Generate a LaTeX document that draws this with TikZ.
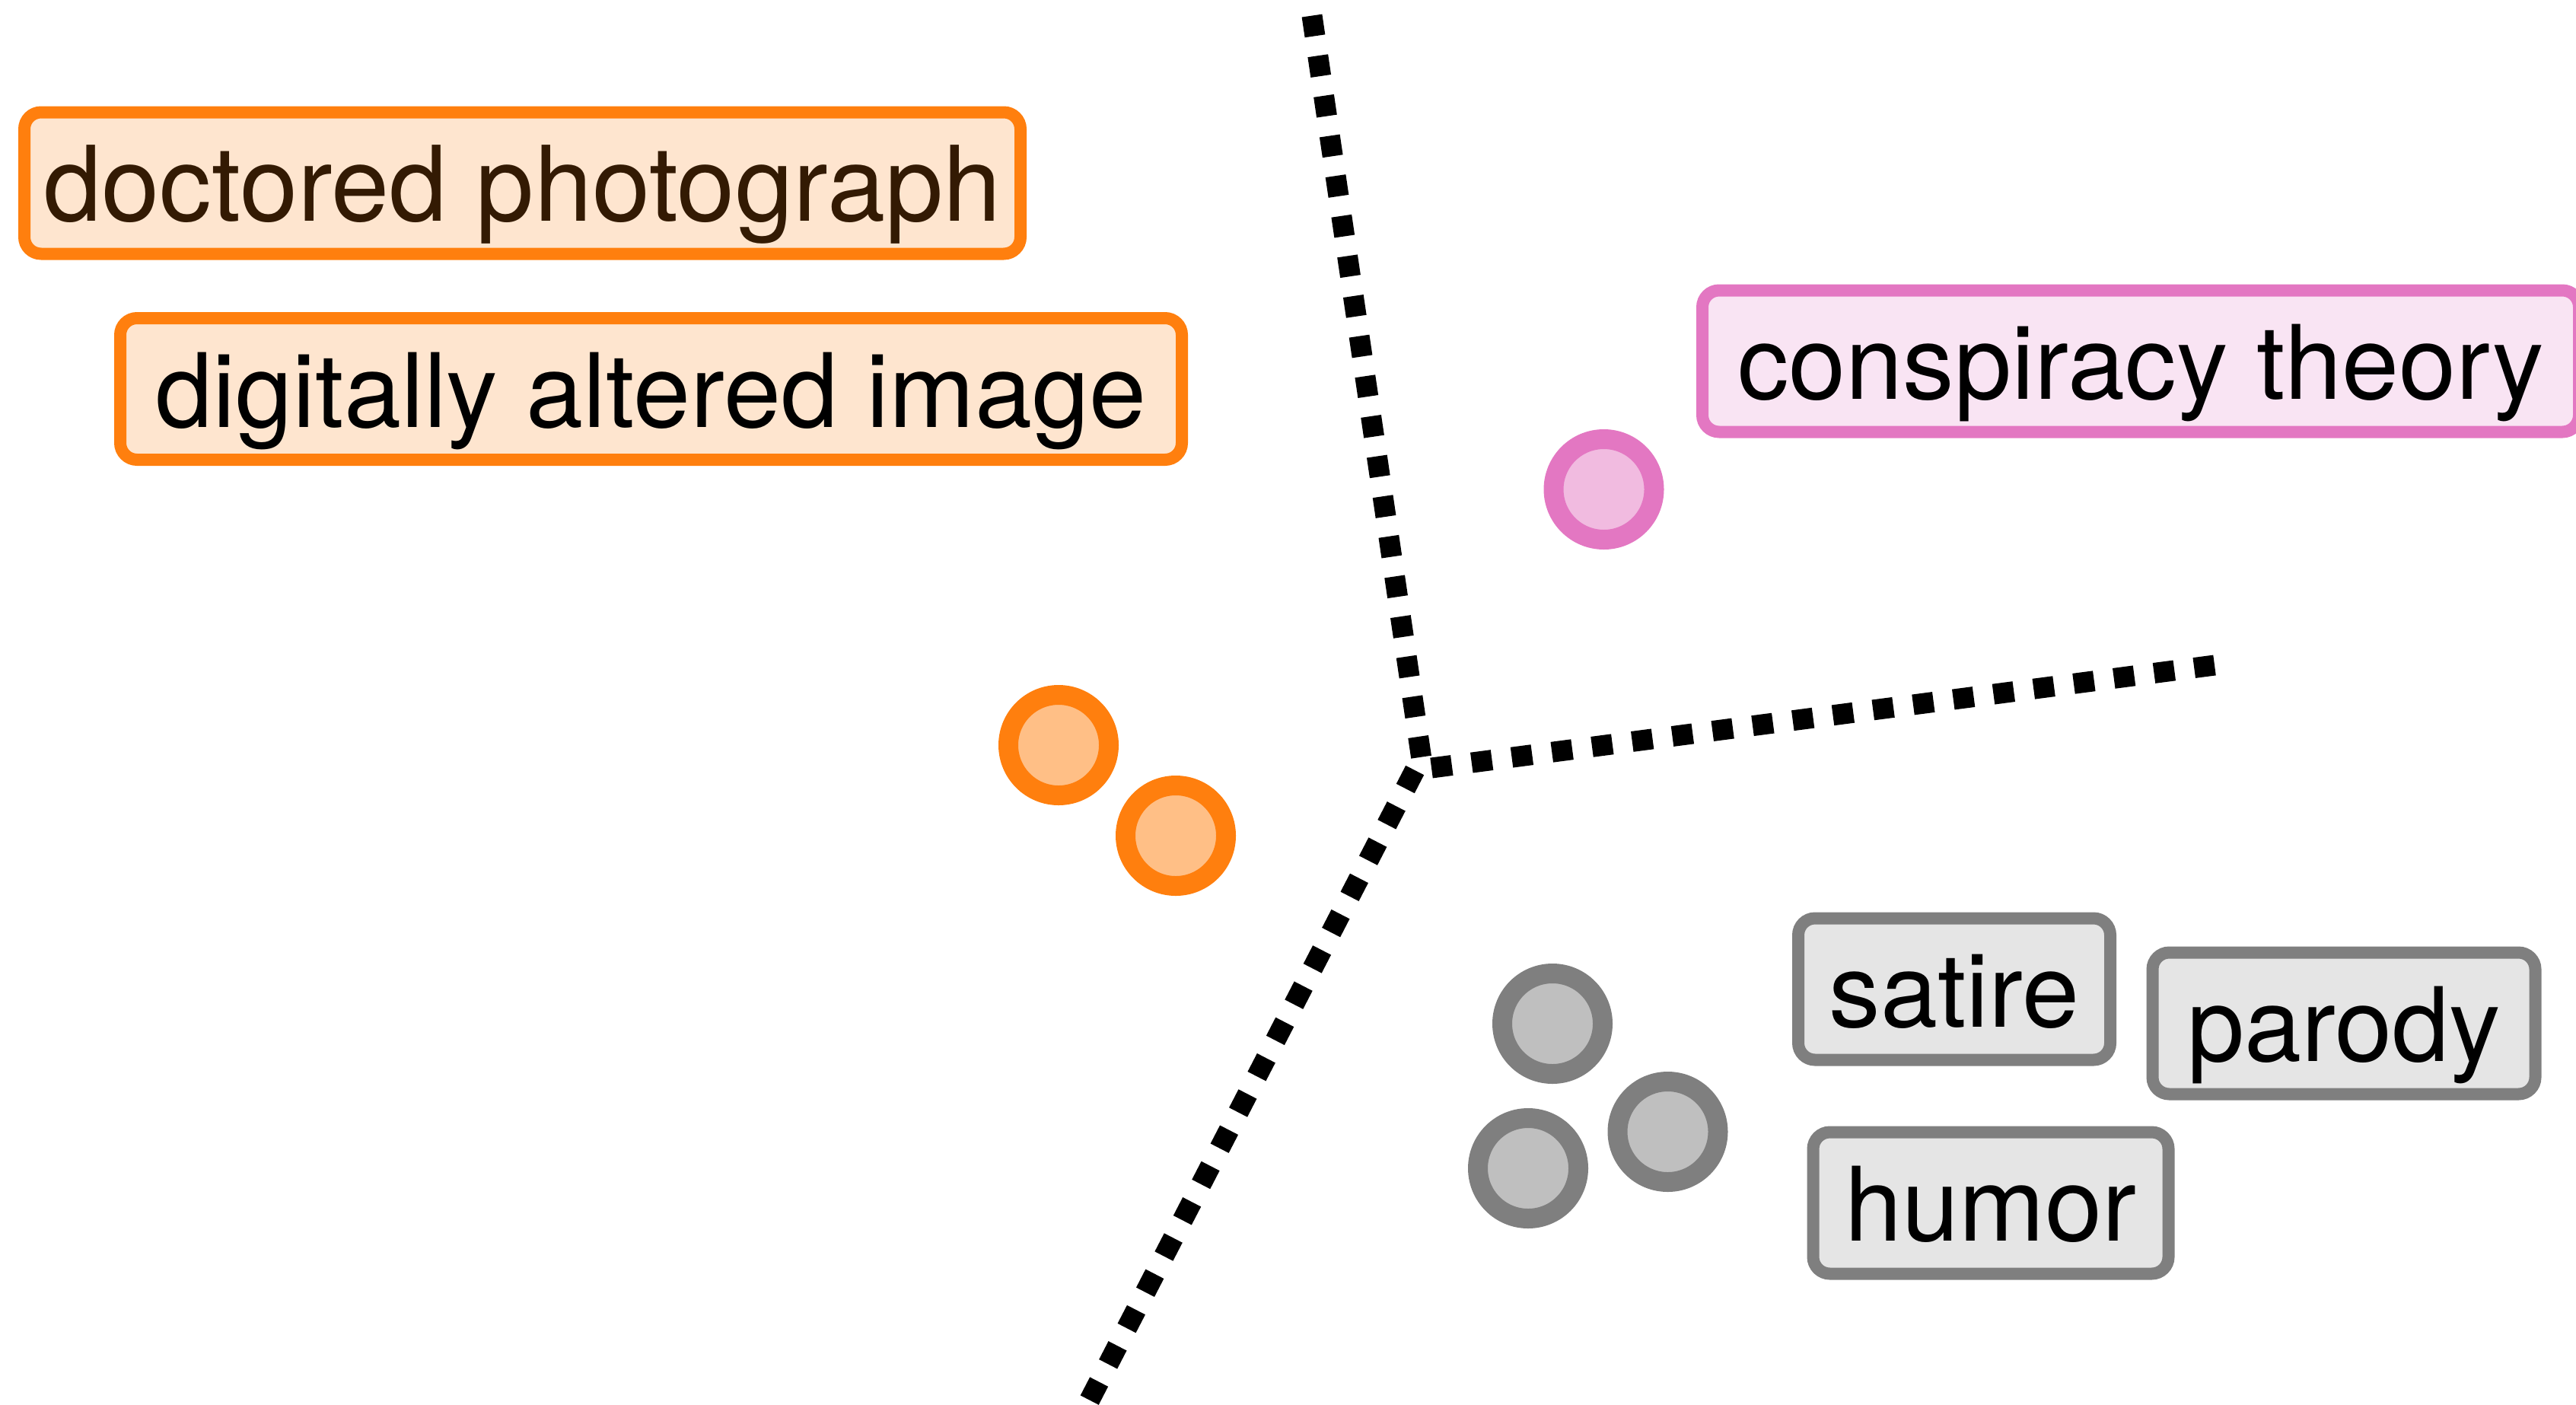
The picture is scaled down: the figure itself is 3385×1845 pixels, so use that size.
\documentclass[tikz,border=0pt]{standalone}
\usepackage{fontspec}
\setmainfont{TeX Gyre Heros}
\definecolor{tOrange}{RGB}{255,127,14}
\definecolor{tOrangeMid}{RGB}{255,191,134}
\definecolor{tOrangeLight}{RGB}{254,229,207}
\definecolor{tOrangeDark}{RGB}{51,26,3}
\definecolor{tPink}{RGB}{227,119,194}
\definecolor{tPinkMid}{RGB}{241,187,224}
\definecolor{tPinkLight}{RGB}{249,228,243}
\definecolor{tGray}{RGB}{127,127,127}
\definecolor{tGrayMid}{RGB}{191,191,191}
\definecolor{tGrayLight}{RGB}{229,229,229}
\tikzset{
  lbl/.style={rounded corners=22pt, line width=16pt, inner xsep=0pt, inner ysep=0pt,
    minimum height=186pt, text height=120pt, text depth=20pt,
    font=\fontsize{135}{160}\selectfont},
  lblorange/.style={lbl, draw=tOrange, fill=tOrangeLight},
  lblpink/.style={lbl, draw=tPink, fill=tPinkLight},
  lblgray/.style={lbl, draw=tGray, fill=tGrayLight},
  pt/.style={circle, line width=26pt, minimum size=132pt, inner sep=0pt},
  ptorange/.style={pt, draw=tOrange, fill=tOrangeMid},
  ptpink/.style={pt, draw=tPink, fill=tPinkMid},
  ptgray/.style={pt, draw=tGray, fill=tGrayMid},
  sepline/.style={line width=27pt, dash pattern=on 27pt off 26.2pt}
}
\begin{document}
\begin{tikzpicture}[x=1pt, y=-1pt]
\useasboundingbox (0,0) rectangle (3385,1845);
\clip (0,0) rectangle (3385,1845);
% separating lines
\coordinate (T) at (1724,20.6);
\coordinate (C) at (1867.7,995.5);
\coordinate (R) at (2910,874);
\coordinate (Rend) at (1881,1009);
\coordinate (B) at (1416,1870);
\draw[sepline] (T) -- (C);
\draw[sepline] (R) -- (Rend);
\draw[sepline, dash phase=34.6pt] (C) -- (B);
% labels
\node[lblorange, minimum width=1309pt, text=tOrangeDark, font=\fontsize{137}{160}\selectfont] (doc) at (686.5,240.5) {doctored photograph};
\node[lblorange, minimum width=1395pt] (dig) at (855.5,511) {digitally altered image};
\node[lblpink, minimum width=1152pt] (consp) at (2813,474.5) {conspiracy theory};
\node[lblgray, minimum width=410pt] (sat) at (2568,1299.5) {satire};
\node[lblgray, minimum width=503pt] (par) at (3080,1344.5) {parody};
\node[lblgray, minimum width=467pt] (hum) at (2616,1580.5) {humor};
% points
\node[ptorange] (o1) at (1391,979) {};
\node[ptorange] (o2) at (1545,1098) {};
\node[ptpink] (p1) at (2107.5,643) {};
\node[ptgray] (g1) at (2040,1345) {};
\node[ptgray] (g2) at (2191.5,1487) {};
\node[ptgray] (g3) at (2008,1535) {};
\end{tikzpicture}
\end{document}
